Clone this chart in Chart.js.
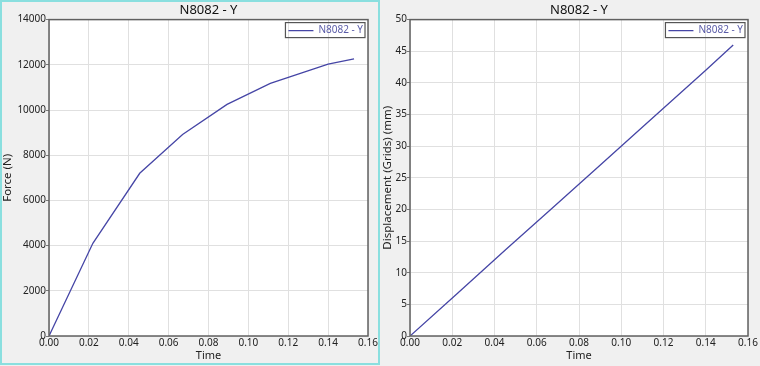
<!DOCTYPE html>
<html>
<head>
<meta charset="utf-8">
<script src="https://cdn.jsdelivr.net/npm/chart.js@4"></script>
<style>
body { margin: 0; background: #f0f0f0; width: 760px; height: 366px; overflow: hidden; position: relative; }
.panel { position: absolute; top: 0; width: 380px; height: 366px; }
#leftPanel { left: 0; }
#rightPanel { left: 380px; }
.frame { position: absolute; left: 0; top: 0; width: 380px; height: 365px; border: 2px solid #8adfdf; box-sizing: border-box; pointer-events: none; }
</style>
</head>
<body>
<div class="panel" id="leftPanel"><canvas id="forceChart" width="380" height="366"></canvas></div>
<div class="panel" id="rightPanel"><canvas id="dispChart" width="380" height="366"></canvas></div>
<div class="frame"></div>
<script>
// Values
const seriesName = 'N8082 - Y';
const times = [0, 0.022, 0.0455, 0.067, 0.0893, 0.111, 0.140, 0.153];
const force = [0, 4100, 7200, 8920, 10250, 11180, 12030, 12260];
const displacement = [0, 6.6, 13.7, 20.1, 26.8, 33.3, 42.0, 46.0];

// Tick values
const timeTicks = [0, 0.02, 0.04, 0.06, 0.08, 0.10, 0.12, 0.14, 0.16];
const forceTicks = [0, 2000, 4000, 6000, 8000, 10000, 12000, 14000];
const dispTicks = [0, 5, 10, 15, 20, 25, 30, 35, 40, 45, 50];

Chart.defaults.font.family = "'Noto Sans', sans-serif";

const lineColor = '#4646a6';
const gridColor = '#e0e0e0';

// gray panel, white plot area, plot frame and legend box
const frames = {
    id: 'frames',
    afterLayout(chart) {
        // push the in-plot legend to the top right corner
        const lg = chart.legend, a = chart.chartArea;
        if (!lg) return;
        lg.left = a.right - lg.width + 5;
        lg.right = lg.left + lg.width;
        lg.top = a.top + 1;
    },
    beforeDraw(chart) {
        const { ctx, chartArea: a } = chart;
        ctx.save();
        ctx.fillStyle = '#f0f0f0';
        ctx.fillRect(0, 0, chart.width, chart.height);
        ctx.fillStyle = '#ffffff';
        ctx.fillRect(a.left, a.top, a.right - a.left, a.bottom - a.top);
        ctx.restore();
    },
    afterDraw(chart) {
        const { ctx, chartArea: a } = chart;
        ctx.save();
        ctx.strokeStyle = '#606060';
        ctx.lineWidth = 1.5;
        ctx.strokeRect(a.left, a.top, a.right - a.left, a.bottom - a.top);
        const hb = chart.legend.legendHitBoxes[0];
        if (hb) {
            ctx.lineWidth = 1.2;
            ctx.strokeStyle = '#555';
            ctx.strokeRect(hb.left - 3, hb.top - 3, hb.width + 5, hb.height + 5);
        }
        ctx.restore();
    }
};

function makeChart(canvasId, values, yTicks, yTitle, yWidth) {
    const ctx = document.getElementById(canvasId).getContext('2d');
    return new Chart(ctx, {
        type: 'line',
        data: {
            datasets: [{
                label: seriesName,
                data: times.map((t, i) => ({ x: t, y: values[i] })),
                borderColor: lineColor,
                backgroundColor: lineColor,
                borderWidth: 1.3,
                pointRadius: 0,
                fill: false,
                tension: 0
            }]
        },
        options: {
            responsive: false,
            animation: false,
            layout: { padding: { left: 0, right: 12, top: 0, bottom: 0 } },
            scales: {
                x: {
                    type: 'linear',
                    min: timeTicks[0],
                    max: timeTicks[timeTicks.length - 1],
                    afterBuildTicks: s => { s.ticks = timeTicks.map(v => ({ value: v })); },
                    afterFit: s => { s.height = 30; },
                    grid: { color: gridColor, drawTicks: false },
                    border: { display: false },
                    ticks: {
                        padding: 1, color: '#222', font: { size: 10 },
                        autoSkip: false, maxRotation: 0,
                        callback: v => v.toFixed(2)
                    },
                    title: { display: true, text: 'Time', color: '#222', font: { size: 11 }, padding: { top: 0, bottom: 4 } }
                },
                y: {
                    min: yTicks[0],
                    max: yTicks[yTicks.length - 1],
                    afterBuildTicks: s => { s.ticks = yTicks.map(v => ({ value: v })); },
                    afterFit: s => { s.width = yWidth; },
                    grid: { color: gridColor, tickLength: 3, tickColor: '#777' },
                    border: { display: false },
                    ticks: { padding: 0, color: '#222', font: { size: 10 }, autoSkip: false, callback: v => String(v) },
                    title: { display: true, text: yTitle, color: '#222', font: { size: 11.5 }, padding: { top: 1, bottom: 0 } }
                }
            },
            plugins: {
                title: {
                    display: true, text: seriesName, fullSize: false,
                    color: '#111', font: { size: 13, weight: 'normal' },
                    padding: { top: 2, bottom: 2 }
                },
                legend: {
                    position: 'chartArea',
                    align: 'start',
                    labels: {
                        usePointStyle: true,
                        pointStyle: 'line',
                        pointStyleWidth: 25,
                        boxHeight: 10,
                        padding: 5,
                        color: '#5a5ca8',
                        font: { size: 10 }
                    }
                },
                tooltip: { enabled: false }
            }
        },
        plugins: [frames]
    });
}

makeChart('forceChart', force, forceTicks, 'Force (N)', 49);
makeChart('dispChart', displacement, dispTicks, 'Displacement (Grids) (mm)', 30);
</script>
</body>
</html>
